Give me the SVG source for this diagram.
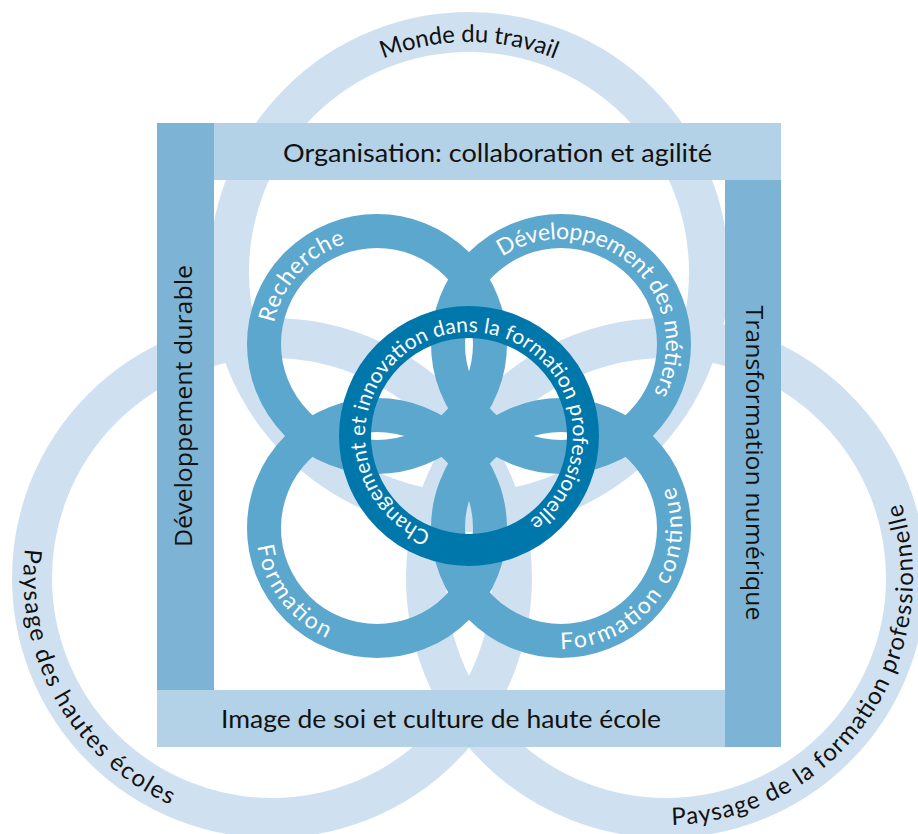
<svg xmlns="http://www.w3.org/2000/svg" width="918" height="834" viewBox="0 0 918 834">
<style>
.big{fill:none;stroke:#cfe1f0;stroke-width:40}
.mid{fill:none;stroke:#5ba7cd;stroke-width:34}
.core{fill:none;stroke:#0077ab;stroke-width:32}
.barL{fill:#b3d2e7}
.barM{fill:#7db4d6}
.t{font-family:Lato,"Noto Sans",sans-serif;fill:#111}
.w{font-family:Lato,"Noto Sans",sans-serif;fill:#fff}
.v{font-family:"Open Sans","Noto Sans",sans-serif;fill:#111}
</style>
<defs>
<path id="p-monde" d="M 239 272 A 230 230 0 0 1 699 272"/>
<path id="p-hautes" d="M 149.39 361.28 A 249 249 0 0 0 394.61 794.72"/>
<path id="p-pro" d="M 522.57 779.09 A 247 247 0 0 0 809.43 376.91"/>
<path id="p-rech" d="M 306.74 422.03 A 105 105 0 0 1 447.26 265.97"/>
<path id="p-dev" d="M 482.97 273.74 A 105 105 0 0 1 639.03 414.26"/>
<path id="p-form" d="M 304.18 431.36 A 121 121 0 0 0 449.82 624.64"/>
<path id="p-cont" d="M 491.6 627.12 A 121 121 0 0 0 630.4 428.88"/>
<path id="p-core" d="M 472.63 539.94 A 104 104 0 1 1 490.62 537.73"/>
</defs>

<g id="monde-du-travail">
<circle class="big" cx="469" cy="272" r="240"/>
<text class="t" font-size="24"><textPath href="#p-monde" startOffset="50%" text-anchor="middle" textLength="176">Monde du travail</textPath></text>
</g>
<g id="paysage-hautes-ecoles">
<circle class="big" cx="272" cy="578" r="240"/>
<text class="t" font-size="24"><textPath href="#p-hautes" startOffset="50%" text-anchor="middle" textLength="315">Paysage des hautes écoles</textPath></text>
</g>
<g id="paysage-formation-pro">
<circle class="big" cx="666" cy="578" r="240"/>
<text class="t" font-size="24"><textPath href="#p-pro" startOffset="50%" text-anchor="middle" textLength="458">Paysage de la formation professionnelle</textPath></text>
</g>

<g id="developpement-durable">
<rect class="barM" x="157" y="123" width="57" height="567"/>
<text class="v" font-size="23" transform="translate(192,406) rotate(-90)" text-anchor="middle" textLength="282" lengthAdjust="spacingAndGlyphs">Développement durable</text>
</g>
<g id="organisation">
<rect class="barL" x="214" y="123" width="567" height="57"/>
<text class="t" font-size="25" x="497.5" y="162" text-anchor="middle" textLength="429" lengthAdjust="spacingAndGlyphs">Organisation: collaboration et agilité</text>
</g>
<g id="transformation-numerique">
<rect class="barM" x="725" y="180" width="56" height="567"/>
<text class="v" font-size="23" transform="translate(746,463) rotate(90)" text-anchor="middle" textLength="315" lengthAdjust="spacingAndGlyphs">Transformation numérique</text>
</g>
<g id="image-de-soi">
<rect class="barL" x="157" y="690" width="568" height="57"/>
<text class="t" font-size="25" x="441" y="728" text-anchor="middle" textLength="440" lengthAdjust="spacingAndGlyphs">Image de soi et culture de haute école</text>
</g>

<g id="recherche">
<circle class="mid" cx="377" cy="344" r="113"/>
<text class="w" font-size="23"><textPath href="#p-rech" startOffset="50%" text-anchor="middle" textLength="112">Recherche</textPath></text>
</g>
<g id="developpement-metiers">
<circle class="mid" cx="561" cy="344" r="113"/>
<text class="w" font-size="23"><textPath href="#p-dev" startOffset="50%" text-anchor="middle" textLength="278">Développement des métiers</textPath></text>
</g>
<g id="formation">
<circle class="mid" cx="377" cy="528" r="113"/>
<text class="w" font-size="23"><textPath href="#p-form" startOffset="50%" text-anchor="middle" textLength="120">Formation</textPath></text>
</g>
<g id="formation-continue">
<circle class="mid" cx="561" cy="528" r="113"/>
<text class="w" font-size="23"><textPath href="#p-cont" startOffset="50%" text-anchor="middle" textLength="233">Formation continue</textPath></text>
</g>

<g id="changement-innovation">
<circle class="core" cx="469" cy="436" r="114"/>
<text class="w" font-size="21"><textPath href="#p-core" startOffset="50%" text-anchor="middle" textLength="550">Changement et innovation dans la formation professionelle</textPath></text>
</g>
</svg>
